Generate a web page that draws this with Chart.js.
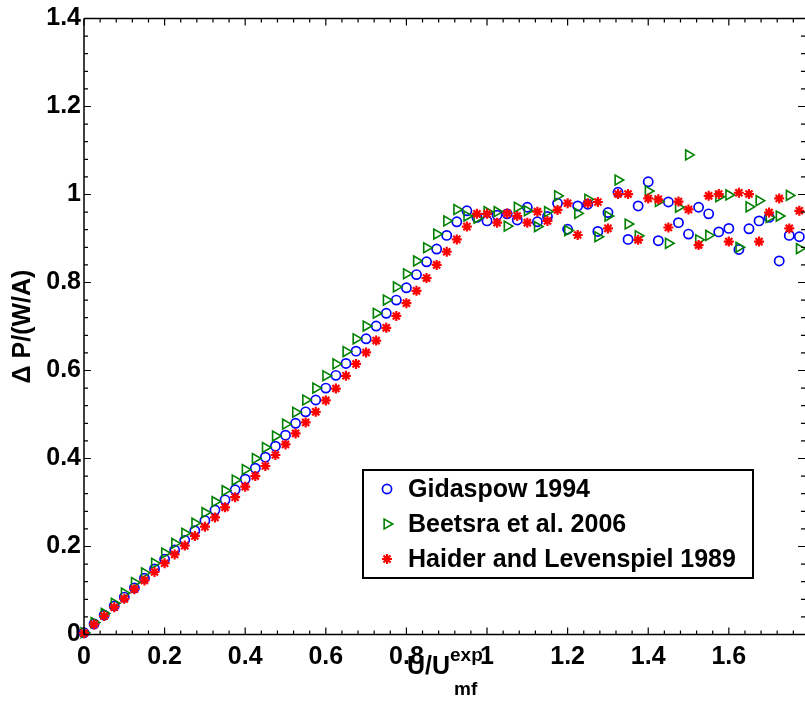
<!DOCTYPE html>
<html>
<head>
<meta charset="utf-8">
<script src="https://cdn.jsdelivr.net/npm/chart.js@4/dist/chart.umd.min.js"></script>
<style>
  html, body { margin: 0; padding: 0; background: #fff; overflow: hidden; }
  #wrap { width: 805px; height: 702px; position: relative; }
  canvas { display: block; }
</style>
</head>
<body>
<div id="wrap"><canvas id="c" width="805" height="702"></canvas></div>
<script>
const xValues = [0,0.025,0.05,0.075,0.1,0.125,0.15,0.175,0.2,0.225,0.25,0.275,0.3,0.325,0.35,0.375,0.4,0.425,0.45,0.475,0.5,0.525,0.55,0.575,0.6,0.625,0.65,0.675,0.7,0.725,0.75,0.775,0.8,0.825,0.85,0.875,0.9,0.925,0.95,0.975,1,1.025,1.05,1.075,1.1,1.125,1.15,1.175,1.2,1.225,1.25,1.275,1.3,1.325,1.35,1.375,1.4,1.425,1.45,1.475,1.5,1.525,1.55,1.575,1.6,1.625,1.65,1.675,1.7,1.725,1.75,1.775];

const gidaspow = [0.004,0.024,0.044,0.065,0.085,0.106,0.128,0.149,0.171,0.192,
0.214,0.236,0.259,0.283,0.306,0.329,0.353,0.378,0.403,0.428,
0.453,0.480,0.506,0.533,0.560,0.589,0.616,0.644,0.672,0.701,
0.730,0.760,0.788,0.818,0.847,0.876,0.907,0.938,0.963,0.948,
0.940,0.953,0.956,0.942,0.971,0.938,0.950,0.980,0.921,0.974,
0.978,0.916,0.959,1.005,0.898,0.974,1.029,0.895,0.983,0.936,
0.910,0.971,0.956,0.915,0.923,0.875,0.922,0.940,0.948,0.849,
0.907,0.904];

const beetsra = [0.004,0.027,0.048,0.071,0.094,0.118,0.140,0.162,0.185,0.207,
0.230,0.253,0.277,0.302,0.327,0.351,0.375,0.400,0.425,0.451,
0.478,0.505,0.533,0.560,0.588,0.615,0.643,0.672,0.701,0.730,
0.760,0.790,0.820,0.849,0.879,0.910,0.940,0.966,0.951,0.946,
0.961,0.961,0.928,0.971,0.963,0.927,0.961,0.997,0.918,0.957,
0.989,0.904,0.951,1.033,0.933,0.906,1.008,0.984,0.889,0.971,
1.090,0.897,0.907,0.995,0.999,0.880,0.972,0.986,0.948,0.951,
0.998,0.877];

const haider = [0.003,0.023,0.042,0.062,0.081,0.103,0.123,0.142,0.162,0.182,
0.202,0.224,0.245,0.266,0.289,0.312,0.336,0.360,0.383,0.408,
0.432,0.457,0.482,0.506,0.532,0.559,0.588,0.615,0.641,0.668,
0.697,0.724,0.753,0.781,0.810,0.840,0.870,0.898,0.927,0.956,
0.956,0.936,0.957,0.951,0.936,0.961,0.940,0.965,0.980,0.908,
0.980,0.983,0.923,1.001,1.001,0.897,0.991,0.989,0.925,0.984,
0.966,0.885,0.997,1.001,0.893,1.004,1.001,0.893,0.959,0.991,
0.923,0.963];

const seriesNames = ['Gidaspow 1994', 'Beetsra et al. 2006', 'Haider and Levenspiel 1989'];
const xTickLabels = ['0','0.2','0.4','0.6','0.8','1','1.2','1.4','1.6'];
const yTickLabels = ['0','0.2','0.4','0.6','0.8','1','1.2','1.4'];
const xTitleMain = 'U/U';
const xTitleSup = 'exp';
const xTitleSub = 'mf';
const yTitle = '\u0394 P/(W/A)';

const X_MIN = 0, X_MAX = 1.789, Y_MIN = 0, Y_MAX = 1.4;
const FONT = '"Liberation Sans", Arial, Helvetica, sans-serif';

function pts(ys) { return ys.map((y, i) => ({ x: xValues[i], y: y })); }

const datasets = [
  { label: seriesNames[0], data: pts(gidaspow), pointStyle: 'circle', pointRadius: 4.6,
    borderColor: '#0000ff', backgroundColor: 'rgba(0,0,0,0)', pointBorderWidth: 1.7, order: 2 },
  { label: seriesNames[1], data: pts(beetsra), pointStyle: 'triangle', pointRotation: 90, pointRadius: 5.7,
    borderColor: '#008000', backgroundColor: 'rgba(0,0,0,0)', pointBorderWidth: 1.6, order: 1 },
  { label: seriesNames[2], data: pts(haider), pointStyle: 'star', pointRadius: 5,
    borderColor: '#ff0000', backgroundColor: '#ff0000', pointBorderWidth: 2.2, order: 0 }
];
datasets.forEach(d => { d.showLine = false; d.clip = false; d.pointHoverRadius = d.pointRadius; });

const decor = {
  id: 'decor',
  afterDatasetsDraw(chart) {
    const ctx = chart.ctx;
    const a = chart.chartArea;
    const xs = chart.scales.x, ys = chart.scales.y;
    ctx.save();
    ctx.strokeStyle = '#000';
    ctx.lineWidth = 1.5;
    ctx.beginPath();
    ctx.moveTo(a.left, a.top); ctx.lineTo(a.left, a.bottom);
    ctx.moveTo(a.left, a.bottom); ctx.lineTo(a.right, a.bottom);
    ctx.moveTo(a.left, a.top); ctx.lineTo(a.right, a.top);
    ctx.stroke();
    ctx.lineWidth = 1.2;
    ctx.beginPath();
    for (let k = 0; k * 0.04 <= X_MAX + 1e-9; k++) {
      const v = k * 0.04;
      const px = xs.getPixelForValue(v);
      const len = (k % 5 === 0) ? 7 : 4;
      ctx.moveTo(px, a.bottom); ctx.lineTo(px, a.bottom - len);
      ctx.moveTo(px, a.top); ctx.lineTo(px, a.top + len);
    }
    for (let k = 0; k * 0.04 <= Y_MAX + 1e-9; k++) {
      const v = k * 0.04;
      const py = ys.getPixelForValue(v);
      const len = (k % 5 === 0) ? 7 : 4;
      ctx.moveTo(a.left, py); ctx.lineTo(a.left + len, py);
      ctx.moveTo(a.right, py); ctx.lineTo(a.right - len, py);
    }
    ctx.stroke();

    ctx.fillStyle = '#000';
    ctx.textAlign = 'left';
    ctx.textBaseline = 'alphabetic';
    ctx.font = 'bold 25px ' + FONT;
    const x0 = 407;
    ctx.fillText(xTitleMain, x0, 674);
    const w = ctx.measureText(xTitleMain).width;
    ctx.font = 'bold 19px ' + FONT;
    ctx.fillText(xTitleSup, x0 + w, 661);
    ctx.fillText(xTitleSub, x0 + w + 4, 695);

    const lx = 363, ly = 470, lw = 390, lh = 108;
    ctx.fillStyle = '#fff';
    ctx.fillRect(lx, ly, lw, lh);
    ctx.strokeStyle = '#000';
    ctx.lineWidth = 2;
    ctx.strokeRect(lx, ly, lw, lh);
    const rows = [489, 524, 559];
    chart.data.datasets.forEach((d, i) => {
      const y = rows[i];
      ctx.save();
      ctx.strokeStyle = d.borderColor;
      ctx.fillStyle = d.backgroundColor;
      ctx.lineWidth = d.pointBorderWidth;
      Chart.helpers.drawPoint(ctx, {
        pointStyle: d.pointStyle, rotation: d.pointRotation || 0,
        radius: d.pointRadius, borderWidth: d.pointBorderWidth
      }, 387, y);
      ctx.restore();
      ctx.fillStyle = '#000';
      ctx.font = 'bold 25px ' + FONT;
      ctx.textBaseline = 'middle';
      ctx.textAlign = 'left';
      ctx.fillText(d.label, 408, y + 1);
    });
    ctx.restore();
  }
};

new Chart(document.getElementById('c'), {
  type: 'scatter',
  data: { datasets },
  options: {
    responsive: false,
    animation: false,
    devicePixelRatio: 1,
    layout: { autoPadding: false, padding: { top: 18.5, right: 0, bottom: 0, left: 0 } },
    plugins: { legend: { display: false }, tooltip: { enabled: false } },
    scales: {
      x: {
        type: 'linear', min: X_MIN, max: X_MAX,
        border: { display: false },
        grid: { display: false, drawTicks: false },
        ticks: {
          stepSize: 0.2, includeBounds: false, maxRotation: 0, autoSkip: false,
          padding: 8, color: '#000',
          font: { family: FONT, size: 25, weight: 'bold' },
          callback: (v) => { const i = Math.round(v / 0.2); return xTickLabels[i] !== undefined ? xTickLabels[i] : ''; }
        },
        afterFit: (s) => { s.height = 67.5; s.paddingRight = 0; s.paddingLeft = 0; }
      },
      y: {
        type: 'linear', min: Y_MIN, max: Y_MAX,
        border: { display: false },
        grid: { display: false, drawTicks: false },
        ticks: {
          stepSize: 0.2, padding: 3, color: '#000',
          font: { family: FONT, size: 25, weight: 'bold' },
          callback: (v) => { const i = Math.round(v / 0.2); return yTickLabels[i] !== undefined ? yTickLabels[i] : ''; }
        },
        title: { display: true, text: yTitle, color: '#000', padding: { top: 8, bottom: 0 },
          font: { family: FONT, size: 25, weight: 'bold' } },
        afterFit: (s) => { s.width = 84; s.paddingTop = 0; s.paddingBottom = 0; }
      }
    }
  },
  plugins: [decor]
});
</script>
</body>
</html>
